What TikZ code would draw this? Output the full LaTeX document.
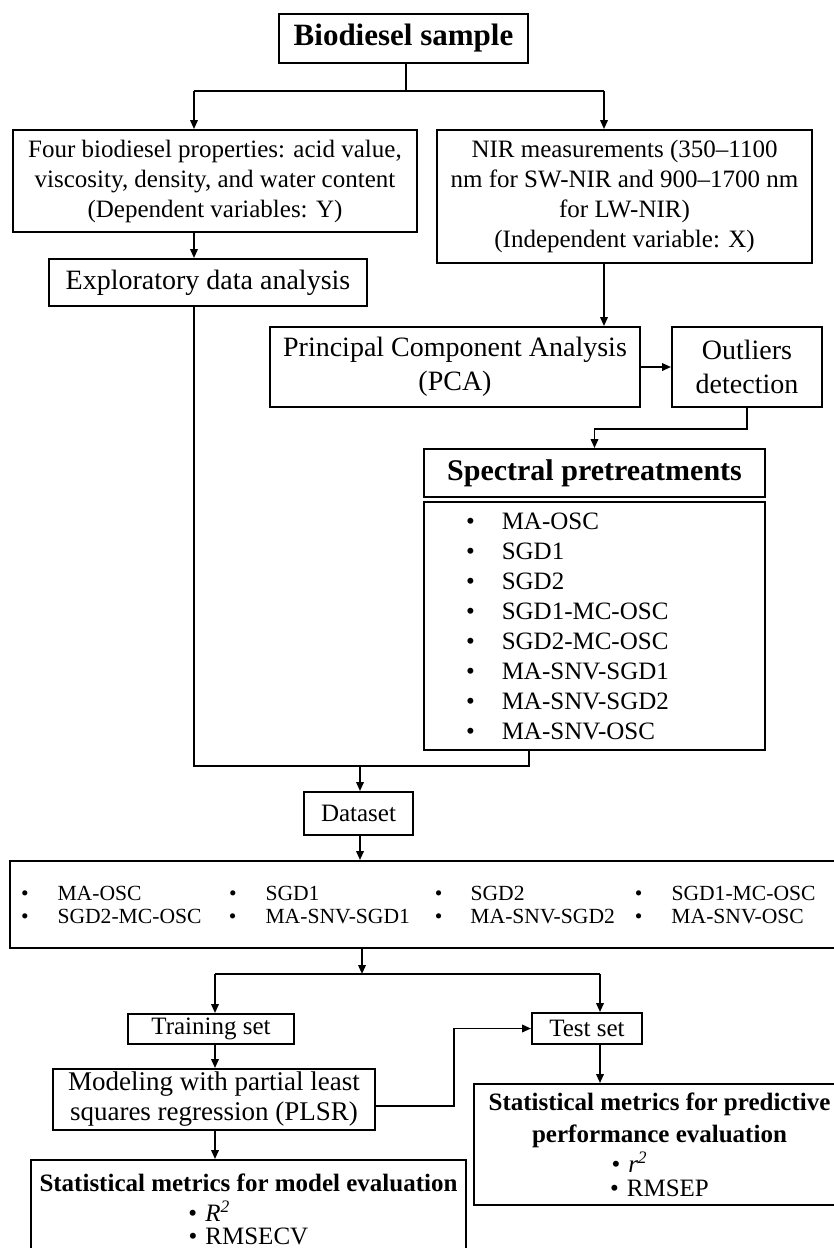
\documentclass[tikz,border=0pt]{standalone}
\usepackage{fontspec}
\setmainfont{Liberation Serif}
\usetikzlibrary{arrows.meta}

\begin{document}
\begin{tikzpicture}[x=1pt,y=-1pt,
    box/.style={draw,line width=1.9pt,inner sep=0pt,align=center},
    txt/.style={font=\fontsize{25}{30}\selectfont},
    big/.style={font=\fontsize{28}{34}\selectfont},
    head/.style={font=\fontsize{#1}{#1}\selectfont\bfseries},
    arr/.style={-{Triangle[length=9pt,width=7.5pt]}}]
      \useasboundingbox (0,0) rectangle (834,1248);
      \clip (0,0) rectangle (834,1248);
      \node[box,head=31,minimum width=249pt,minimum height=49pt] (sample) at (403.5,38.5) {Biodiesel sample};
      \node[box,txt,minimum width=404pt,minimum height=102pt] (props) at (215,181)
        {Four biodiesel properties: acid value,\\viscosity, density, and water content\\(Dependent variables: Y)};
      \node[box,txt,minimum width=375pt,minimum height=133pt] (nir) at (624.5,196.5)
        {NIR measurements (350--1100\\nm for SW-NIR and 900--1700 nm\\for LW-NIR)\\(Independent variable: X)};
      \node[box,big,minimum width=318pt,minimum height=47pt] (eda) at (208,282.5) {Exploratory data analysis};
      \node[box,big,minimum width=370pt,minimum height=80pt] (pca) at (455,367) {Principal Component Analysis\\(PCA)};
      \node[box,big,minimum width=150pt,minimum height=80pt] (outl) at (747,367) {Outliers\\detection};
      \node[box,head=30,minimum width=341pt,minimum height=48pt] (spec) at (594.5,473) {Spectral pretreatments};
      \node[box,txt,align=left,text width=257pt,inner xsep=42pt,minimum height=248pt] (speclist) at (594.5,626)
        {\textbullet\hspace{27pt}MA-OSC\\
         \textbullet\hspace{27pt}SGD1\\
         \textbullet\hspace{27pt}SGD2\\
         \textbullet\hspace{27pt}SGD1-MC-OSC\\
         \textbullet\hspace{27pt}SGD2-MC-OSC\\
         \textbullet\hspace{27pt}MA-SNV-SGD1\\
         \textbullet\hspace{27pt}MA-SNV-SGD2\\
         \textbullet\hspace{27pt}MA-SNV-OSC};
      \node[box,txt,minimum width=109pt,minimum height=43pt] (dataset) at (358.5,813.5) {Dataset};
      \node[box,font=\fontsize{21.6}{23}\selectfont,align=left,text width=806pt,inner xsep=11pt,minimum height=87pt] (models) at (424,904.5)
        {\makebox[208pt][l]{\textbullet\hspace{29pt}MA-OSC}\makebox[206pt][l]{\textbullet\hspace{29pt}SGD1}\makebox[200pt][l]{\textbullet\hspace{28pt}SGD2}\textbullet\hspace{29pt}SGD1-MC-OSC\\
         \makebox[208pt][l]{\textbullet\hspace{29pt}SGD2-MC-OSC}\makebox[206pt][l]{\textbullet\hspace{29pt}MA-SNV-SGD1}\makebox[200pt][l]{\textbullet\hspace{28pt}MA-SNV-SGD2}\textbullet\hspace{29pt}MA-SNV-OSC};
      \node[box,txt,minimum width=166pt,minimum height=30pt] (train) at (211,1029) {Training set};
      \node[box,txt,minimum width=110pt,minimum height=31pt] (test) at (587,1028.5) {Test set};
      \node[box,font=\fontsize{27}{30}\selectfont,minimum width=322pt,minimum height=61pt] (plsr) at (214,1099.5)
        {Modeling with partial least\\squares regression (PLSR)};
      \node[box,txt,minimum width=435pt,minimum height=99pt] (mstat) at (248.5,1209.5)
        {\textbf{Statistical metrics for model evaluation}\\[0pt]
         \makebox[120pt][l]{\textbullet\hspace{8pt}\textit{R\textsuperscript{2}}}\\[-7pt]
         \textbullet\hspace{8pt}RMSECV};
      \node[box,txt,minimum width=371pt,minimum height=121pt] (pstat) at (659.5,1144.5)
        {\textbf{Statistical metrics for predictive}\\[2pt]
         \textbf{performance evaluation}\\
         \makebox[96pt][l]{\textbullet\hspace{8pt}\textit{r\textsuperscript{2}}}\\[-6pt]
         \textbullet\hspace{8pt}RMSEP};
      \coordinate (j1) at (406,91);
      \coordinate (j1l) at (194,91);
      \coordinate (j1r) at (604,91);
      \coordinate (j2) at (747,429);
      \coordinate (j3) at (360,766);
      \coordinate (j3l) at (194,766);
      \coordinate (j3r) at (529,766);
      \coordinate (j4) at (362,974);
      \coordinate (j4l) at (215,974);
      \coordinate (j4r) at (600,974);
      \coordinate (j5) at (454,1106);
      \begin{scope}[line width=1.9pt]
        \draw (sample.south -| j1) to (j1);
        \draw (j1l) to (j1r);
        \draw (eda.south -| j3l) to (j3l) to (j3r) to (speclist.south -| j3r);
        \draw (j4l) to (j4r);
      \end{scope}
      \begin{scope}[line width=1.9pt,arr]
        \draw (j1l) to (props.north -| j1l);
        \draw (j1r) to (nir.north -| j1r);
        \draw (props.south -| j1l) to (eda.north -| j1l);
        \draw (nir.south -| j1r) to (pca.north -| j1r);
        \draw (pca.east) to (outl.west);
        \draw (outl.south) -- (j2) -| (spec.north);
        \draw (j3) to (dataset.north -| j3);
        \draw (dataset.south -| j3) to (models.north -| j3);
        \draw (models.south -| j4) to (j4);
        \draw (j4l) to (train.north -| j4l);
        \draw (j4r) to (test.north -| j4r);
        \draw (train.south -| j4l) to (plsr.north -| j4l);
        \draw (plsr.east |- j5) -- (j5) |- (test.west);
        \draw (test.south -| j4r) to (pstat.north -| j4r);
        \draw (plsr.south -| j4l) to (mstat.north -| j4l);
      \end{scope}
    \end{tikzpicture}
\end{document}
